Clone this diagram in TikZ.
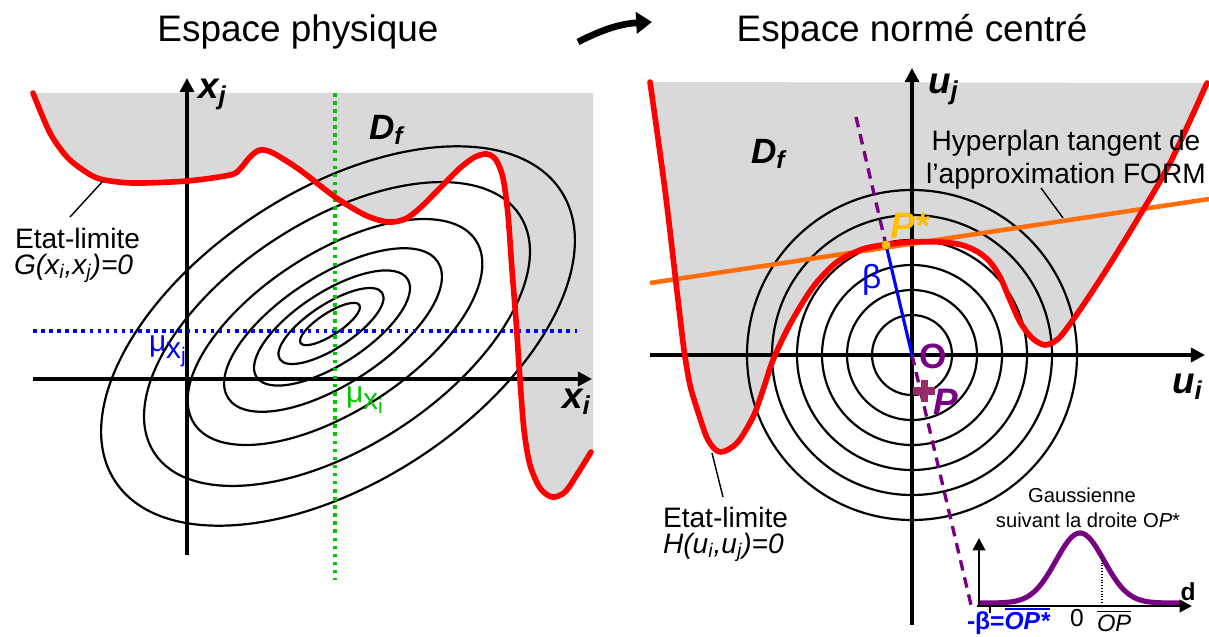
\documentclass[tikz,border=0pt]{standalone}
\usepackage{fontspec}
\setmainfont{Liberation Sans}
\usetikzlibrary{arrows.meta}
\definecolor{lgray}{RGB}{217,217,217}
\definecolor{redc}{RGB}{255,0,0}
\definecolor{orng}{RGB}{255,110,10}
\definecolor{purp}{RGB}{120,0,130}
\definecolor{plusc}{RGB}{150,45,105}
\definecolor{gold}{RGB}{255,192,0}
\definecolor{grn}{RGB}{0,200,0}
\definecolor{blu}{RGB}{0,0,255}
\newcommand{\fsz}[2]{\fontsize{#1}{#2}\selectfont}
\newcommand{\ovl}[2]{\leavevmode\vbox{\hrule height #1\kern1.2pt\hbox{#2}}}
\tikzset{
  redline/.style={draw=redc, line width=3.2pt, line join=round, line cap=round},
  axisarrow/.style={line width=1.8pt, -{Triangle[length=8pt,width=8pt]}},
  contour/.style={line width=1.25pt},
  pointer/.style={line width=0.8pt},
  txt/.style={inner sep=0pt, outer sep=0pt},
  bigital/.style={txt, font=\fsz{21}{21}\bfseries\itshape},
  dotline/.style={line width=2pt, dash pattern=on 2pt off 2.6pt},
}
\begin{document}
\begin{tikzpicture}[x=0.02cm, y=-0.02cm]
\useasboundingbox (0,0) rectangle (1209,636);
\fill[white] (0,0) rectangle (1209,636);

% ---------- titles and arrow ----------
\node[txt, anchor=base, font=\fsz{21}{25}] (t1) at (298,41) {Espace physique};
\node[txt, anchor=base, font=\fsz{21}{25}] (t2) at (912,41) {Espace normé centré};
\coordinate (arrA) at (578,42);
\coordinate (arrB) at (652,22);
\draw[line width=3.8pt, -{Triangle[length=9pt,width=12pt]}] (arrA) to[bend left=12] (arrB);

% ---------- left panel ----------
\fill[lgray] plot[smooth, tension=0.5] coordinates {(33,93) (50,133) (67,157) (83,170) (100,179) (133,183) (187,181) (230,175) (240,169) (250,157) (260,150) (273,153) (300,170) (335,197) (365,215) (388,222) (405,219) (420,208) (440,188) (460,168) (475,157) (487,154) (496,160) (503,178) (508,215) (512,270) (516,320) (520,380) (524,430) (530,465) (540,488) (552,497) (565,492) (578,473) (591,452)} -- (593,452) -- (593,93) -- cycle;

\foreach \cx/\cy/\a/\b in {330/324/35/11, 331/326/61/22, 332/328/90/36, 333/330/125/54, 335/332/168/79, 337/334/218/113, 338/336/266/146}
  \draw[contour, rotate around={33:(\cx,\cy)}] (\cx,\cy) ellipse ({\a} and {\b});

\coordinate (xjb) at (187,555);
\coordinate (xjt) at (187,78);
\coordinate (xib) at (33,379);
\coordinate (xit) at (592,379);
\draw[axisarrow] (xjb) -- (xjt);
\draw[axisarrow] (xib) -- (xit);

\coordinate (bl1) at (33,331);
\coordinate (bl2) at (577,331);
\draw[dotline, blu] (bl1) -- (bl2);
\coordinate (gl1) at (335,93);
\coordinate (gl2) at (335,580);
\draw[dotline, grn] (gl1) -- (gl2);

\draw[redline] plot[smooth, tension=0.5] coordinates {(33,93) (50,133) (67,157) (83,170) (100,179) (133,183) (187,181) (230,175) (240,169) (250,157) (260,150) (273,153) (300,170) (335,197) (365,215) (388,222) (405,219) (420,208) (440,188) (460,168) (475,157) (487,154) (496,160) (503,178) (508,215) (512,270) (516,320) (520,380) (524,430) (530,465) (540,488) (552,497) (565,492) (578,473) (591,452)};

\node[bigital, anchor=base west] (xj) at (198,98) {x\textsubscript{j}};
\node[bigital, anchor=base west] (xi) at (562,408) {x\textsubscript{i}};
\node[txt, anchor=base west, font=\fsz{20}{20}\bfseries\itshape] (df1) at (369,139) {D\textsubscript{f}};
\node[txt, anchor=base west, text=blu, font=\fsz{17}{17}] (muj) at (149,351) {μ\raisebox{-4pt}{x\textsubscript{j}}};
\node[txt, anchor=base west, text=grn, font=\fsz{17}{17}] (mui) at (346,402) {μ\raisebox{-4pt}{x\textsubscript{i}}};

\node[txt, anchor=base west, font=\fsz{16}{16}] (el1a) at (15,248) {Etat-limite};
\node[txt, anchor=base west, font=\fsz{16}{16}\itshape] (el1b) at (14,274) {G(x\textsubscript{i},x\textsubscript{j})=0};
\coordinate (p1a) at (103,181);
\coordinate (p1b) at (70,217);
\draw[pointer] (p1a) -- (p1b);

% ---------- right panel ----------
\fill[lgray] plot[smooth, tension=0.5] coordinates {(650,82) (665,190) (678,300) (684,350) (690,385) (698,412) (708,440) (720,452) (737,443) (753,417) (763,390) (773,360) (788,328) (803,302) (817,282) (837,262) (863,249) (890,244) (912,242) (940,242) (962,245) (978,252) (990,262) (1000,277) (1010,300) (1020,322) (1032,338) (1045,345) (1058,339) (1070,324) (1088,298) (1110,264) (1137,220) (1170,163) (1207,83)} -- cycle;

\coordinate (O) at (912,355);
\foreach \r in {40,65,90,115,140,165}
  \draw[contour] (O) circle ({\r});

\coordinate (ujb) at (912,625);
\coordinate (ujt) at (912,68);
\coordinate (uib) at (650,355);
\coordinate (uit) at (1205,355);
\draw[axisarrow] (ujb) -- (ujt);
\draw[axisarrow] (uib) -- (uit);

\coordinate (hl) at (650,283);
\coordinate (hr) at (1209,199);
\draw[orng, line width=2.6pt] (hl) -- (hr);

\coordinate (Ps) at (886,245);
\coordinate (dtop) at (856,117);
\coordinate (dbot) at (971,605);
\draw[purp, line width=1.9pt, dash pattern=on 6pt off 4pt] (dtop) -- (Ps);
\draw[purp, line width=1.9pt, dash pattern=on 6pt off 4pt] (O) -- (dbot);
\draw[blu, line width=1.8pt] (Ps) -- (O);

\draw[redline] plot[smooth, tension=0.5] coordinates {(650,82) (665,190) (678,300) (684,350) (690,385) (698,412) (708,440) (720,452) (737,443) (753,417) (763,390) (773,360) (788,328) (803,302) (817,282) (837,262) (863,249) (890,244) (912,242) (940,242) (962,245) (978,252) (990,262) (1000,277) (1010,300) (1020,322) (1032,338) (1045,345) (1058,339) (1070,324) (1088,298) (1110,264) (1137,220) (1170,163) (1207,83)};

\fill[gold] (Ps) circle (4.5);
\coordinate (Pm) at (924,391);
\draw[plusc, line width=4pt] ([xshift=-6pt]Pm) -- ([xshift=6pt]Pm);
\draw[plusc, line width=4pt] ([yshift=-6pt]Pm) -- ([yshift=6pt]Pm);

\node[bigital, anchor=base west] (uj) at (928,93) {u\textsubscript{j}};
\node[bigital, anchor=base west] (ui) at (1172,393) {u\textsubscript{i}};
\node[txt, anchor=base west, font=\fsz{20}{20}\bfseries\itshape] (df2) at (751,163) {D\textsubscript{f}};
\node[txt, anchor=base west, text=gold, font=\fsz{21}{21}\bfseries\itshape] (Pstar) at (890,238) {P*};
\node[txt, anchor=base west, text=blu, font=\fsz{19}{19}] (beta) at (862,288) {β};
\node[txt, anchor=base west, text=purp, font=\fsz{20}{20}\bfseries] (Olbl) at (919,368) {O};
\node[txt, anchor=base west, text=purp, font=\fsz{21}{21}\bfseries\itshape] (Plbl) at (933,414) {P};

\node[txt, anchor=base, font=\fsz{16}{16}] (hy1) at (1066,150) {Hyperplan tangent de};
\node[txt, anchor=base, font=\fsz{16}{16}] (hy2) at (1066,183) {l’approximation FORM};
\coordinate (p3a) at (1041,188);
\coordinate (p3b) at (1063,218);
\draw[pointer] (p3a) -- (p3b);

\node[txt, anchor=base west, font=\fsz{16}{16}] (el2a) at (663,527) {Etat-limite};
\node[txt, anchor=base west, font=\fsz{16}{16}\itshape] (el2b) at (663,553) {H(u\textsubscript{i},u\textsubscript{j})=0};
\coordinate (p2a) at (712,453);
\coordinate (p2b) at (723,497);
\draw[pointer] (p2a) -- (p2b);

% ---------- Gaussian inset ----------
\coordinate (gvb) at (979,606);
\coordinate (gvt) at (979,538);
\coordinate (ghb) at (977,606);
\coordinate (ght) at (1192,606);
\draw[purp, line width=2.9pt] plot[domain=979:1180, samples=120] (\x, {603-70*exp(-((\x-1080)^2)/1152)});
\draw[line width=1.5pt, -{Triangle[length=7pt,width=7pt]}] (gvb) -- (gvt);
\draw[line width=1.5pt, -{Triangle[length=7pt,width=7pt]}] (ghb) -- (ght);
\coordinate (dq1) at (1102,557);
\coordinate (dq2) at (1102,606);
\draw[densely dotted, line width=0.6pt] (dq1) -- (dq2);
\coordinate (tk1) at (990,606);
\coordinate (tk2) at (990,613);
\draw[line width=0.8pt] (tk1) -- (tk2);

\node[txt, anchor=base, font=\fsz{11.5}{14}] (ga1) at (1082,502) {Gaussienne};
\node[txt, anchor=base, font=\fsz{11.5}{14}] (ga2) at (1088,527) {suivant la droite O\textit{P}*};
\node[txt, anchor=base, font=\fsz{14}{14}\bfseries] (dlbl) at (1188,600) {d};
\node[txt, anchor=base west, text=blu, font=\fsz{14}{14}\bfseries] (mb) at (967,629) {-β=\ovl{1.2pt}{\itshape OP*}};
\node[txt, anchor=base, font=\fsz{14}{14}] (zero) at (1077,626) {0};
\node[txt, anchor=base west, font=\fsz{13.5}{14}\itshape] (opl) at (1097,631) {\ovl{0.9pt}{OP}};
\end{tikzpicture}
\end{document}
